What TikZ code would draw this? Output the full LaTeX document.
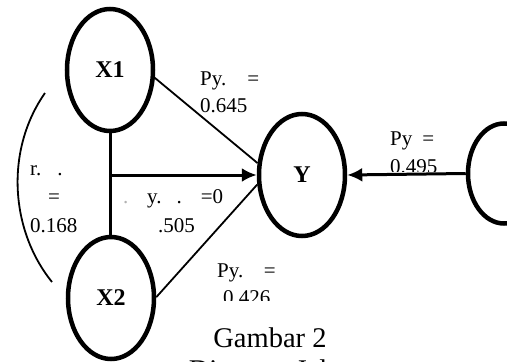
\documentclass[tikz,border=0pt]{standalone}
\usepackage{fontspec}
\setmainfont{Liberation Serif}
\usetikzlibrary{arrows.meta,shapes.geometric}

\begin{document}
\begin{tikzpicture}[x=1pt,y=-1pt,>={Latex[length=15pt,width=14pt]},
  var/.style={draw,ellipse,line width=4.5pt,inner sep=0pt,
    minimum width=86pt,minimum height=122pt,
    font=\fontsize{24}{28}\selectfont\bfseries},
  lbl/.style={anchor=base west,inner sep=0pt,font=\fontsize{21}{25}\selectfont},
  figcap/.style={anchor=base,inner sep=0pt,font=\fontsize{28.5}{34}\selectfont}]
  \useasboundingbox (0,0) rectangle (507,362);
  \clip (0,0) rectangle (507,362);
  % variables
  \node[var] (x1) at (110,70) {X1};
  \node[var] (x2) at (111,298) {X2};
  \node[var] (y) at (302,175) {Y};
  \node[var,minimum width=72pt,minimum height=100pt] (e) at (504,173.5) {};
  % paths
  \draw[line width=3pt] (x1.south) -- (x1.south |- x2.north);
  \coordinate (jn) at (x1.south |- y.west);
  \draw[->,line width=3pt] (jn) -- (y.west);
  \draw[line width=1.8pt] (x1.-10) -- (y.165);
  \draw[line width=1.8pt] (x2.1) -- (y.192);
  \draw[->,line width=3pt] (e.west) -- (y.east);
  % correlation arc
  \draw[line width=1.8pt] (45,93) .. controls (5,150) and (10,230) .. (52,282);
  % coefficients
  \node[lbl] (p1a) at (200,85) {Py.\hspace{21pt}=};
  \node[lbl] (p1b) at (200,112) {0.645};
  \node[lbl] (p3a) at (390,145) {Py\hspace{10pt}=};
  \begin{scope}
    \clip (380,150) rectangle (450,171);
    \node[lbl] (p3b) at (390,173) {0.495};
  \end{scope}
  \node[lbl] (ra) at (30,175) {r.\hspace{16pt}.};
  \node[lbl] (rb) at (48,203) {=};
  \node[lbl] (rc) at (30,232) {0.168};
  \node[lbl,gray!60] (qa) at (123,203) {.};
  \node[lbl] (qb) at (147,203) {y.\hspace{15pt}.\hspace{19pt}=0};
  \node[lbl] (qc) at (158,232) {.505};
  \node[lbl] (p2a) at (217,277) {Py.\hspace{20.6pt}=};
  \begin{scope}
    \clip (210,285) rectangle (290,300);
    \node[lbl] (p2b) at (223,304) {0.426};
  \end{scope}
  % caption
  \node[figcap] (g1) at (270,347) {Gambar 2};
  \node[figcap] (g2) at (270,379) {Diagram Jalur};
\end{tikzpicture}
\end{document}
